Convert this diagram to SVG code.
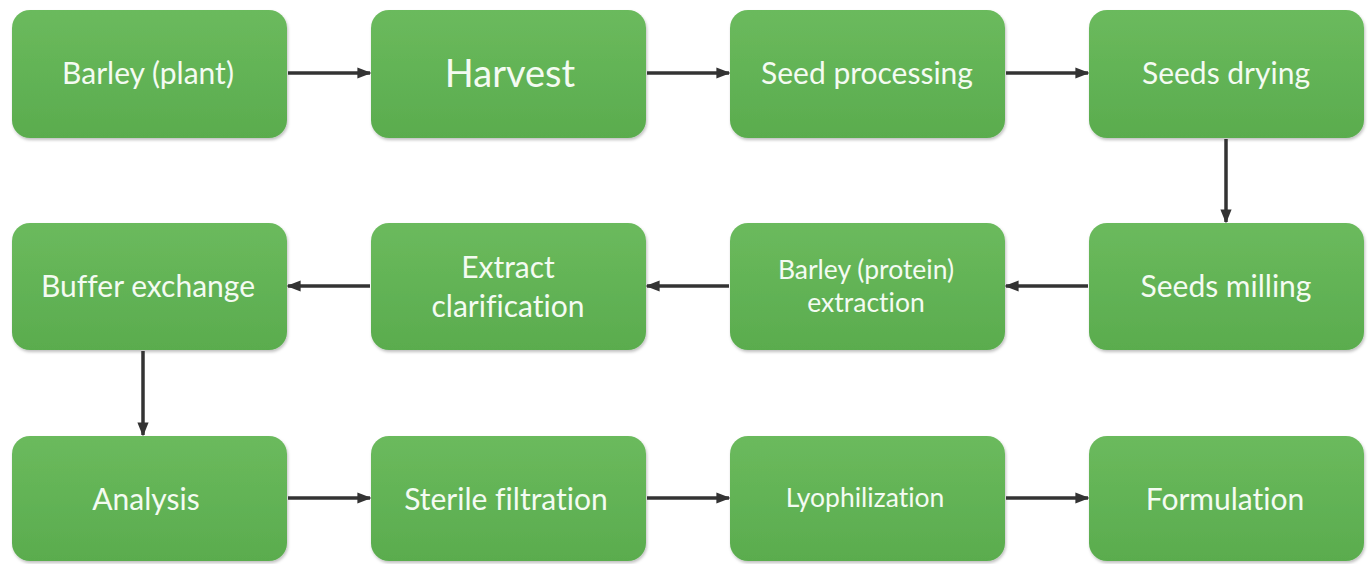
<svg xmlns="http://www.w3.org/2000/svg" width="1372" height="564" viewBox="0 0 1372 564">
<style>
.box{fill:url(#g);filter:url(#sh)}
.t{fill:#f4fbf2;font-family:Lato,"Open Sans","Liberation Sans",sans-serif;font-size:30px;text-anchor:middle;font-variant-ligatures:none}
.c{stroke:#333333;stroke-width:3.5;fill:none;marker-end:url(#ah)}
</style>
<defs>
<linearGradient id="g" x1="0" y1="0" x2="0" y2="1">
<stop offset="0" stop-color="#6bba5d"/>
<stop offset="1" stop-color="#5aac4e"/>
</linearGradient>
<filter id="sh" x="-5%" y="-5%" width="115%" height="120%">
<feDropShadow dx="1" dy="2" stdDeviation="1.5" flood-color="#000" flood-opacity="0.25"/>
</filter>
<marker id="ah" viewBox="0 0 10 10" refX="9" refY="5" markerWidth="4" markerHeight="4" orient="auto" markerUnits="strokeWidth">
<path d="M0,1 L10,5 L0,9 z" fill="#333333"/>
</marker>
</defs>
<g id="n1"><rect class="box" x="12" y="10" width="275" height="128" rx="18"/><text class="t" x="148" y="84">Barley (plant)</text></g>
<g id="n2"><rect class="box" x="371" y="10" width="275" height="128" rx="18"/><text class="t" x="510" y="87" style="font-size:38px">Harvest</text></g>
<g id="n3"><rect class="box" x="730" y="10" width="275" height="128" rx="18"/><text class="t" x="867" y="84">Seed processing</text></g>
<g id="n4"><rect class="box" x="1089" y="10" width="275" height="128" rx="18"/><text class="t" x="1226" y="84">Seeds drying</text></g>
<g id="n5"><rect class="box" x="1089" y="223" width="275" height="127" rx="18"/><text class="t" x="1226" y="297">Seeds milling</text></g>
<g id="n6"><rect class="box" x="730" y="223" width="275" height="127" rx="18"/><text class="t" x="866" y="279" style="font-size:26.5px">Barley (protein)</text><text class="t" x="866" y="312" style="font-size:26.5px">extraction</text></g>
<g id="n7"><rect class="box" x="371" y="223" width="275" height="127" rx="18"/><text class="t" x="508" y="278">Extract</text><text class="t" x="508" y="317">clarification</text></g>
<g id="n8"><rect class="box" x="12" y="223" width="275" height="127" rx="18"/><text class="t" x="148" y="297">Buffer exchange</text></g>
<g id="n9"><rect class="box" x="12" y="436" width="275" height="125" rx="18"/><text class="t" x="146" y="510">Analysis</text></g>
<g id="n10"><rect class="box" x="371" y="436" width="275" height="125" rx="18"/><text class="t" x="506" y="510">Sterile filtration</text></g>
<g id="n11"><rect class="box" x="730" y="436" width="275" height="125" rx="18"/><text class="t" x="865" y="507" style="font-size:26.5px">Lyophilization</text></g>
<g id="n12"><rect class="box" x="1089" y="436" width="275" height="125" rx="18"/><text class="t" x="1225" y="510">Formulation</text></g>
<g id="connectors">
<line class="c" x1="288" y1="73" x2="370" y2="73"/>
<line class="c" x1="647" y1="73" x2="729" y2="73"/>
<line class="c" x1="1006" y1="73" x2="1088" y2="73"/>
<line class="c" x1="1226" y1="139" x2="1226" y2="222"/>
<line class="c" x1="1088" y1="286" x2="1006" y2="286"/>
<line class="c" x1="729" y1="286" x2="647" y2="286"/>
<line class="c" x1="370" y1="286" x2="288" y2="286"/>
<line class="c" x1="143" y1="351" x2="143" y2="435"/>
<line class="c" x1="288" y1="498" x2="370" y2="498"/>
<line class="c" x1="647" y1="498" x2="729" y2="498"/>
<line class="c" x1="1006" y1="498" x2="1088" y2="498"/>
</g>
</svg>
